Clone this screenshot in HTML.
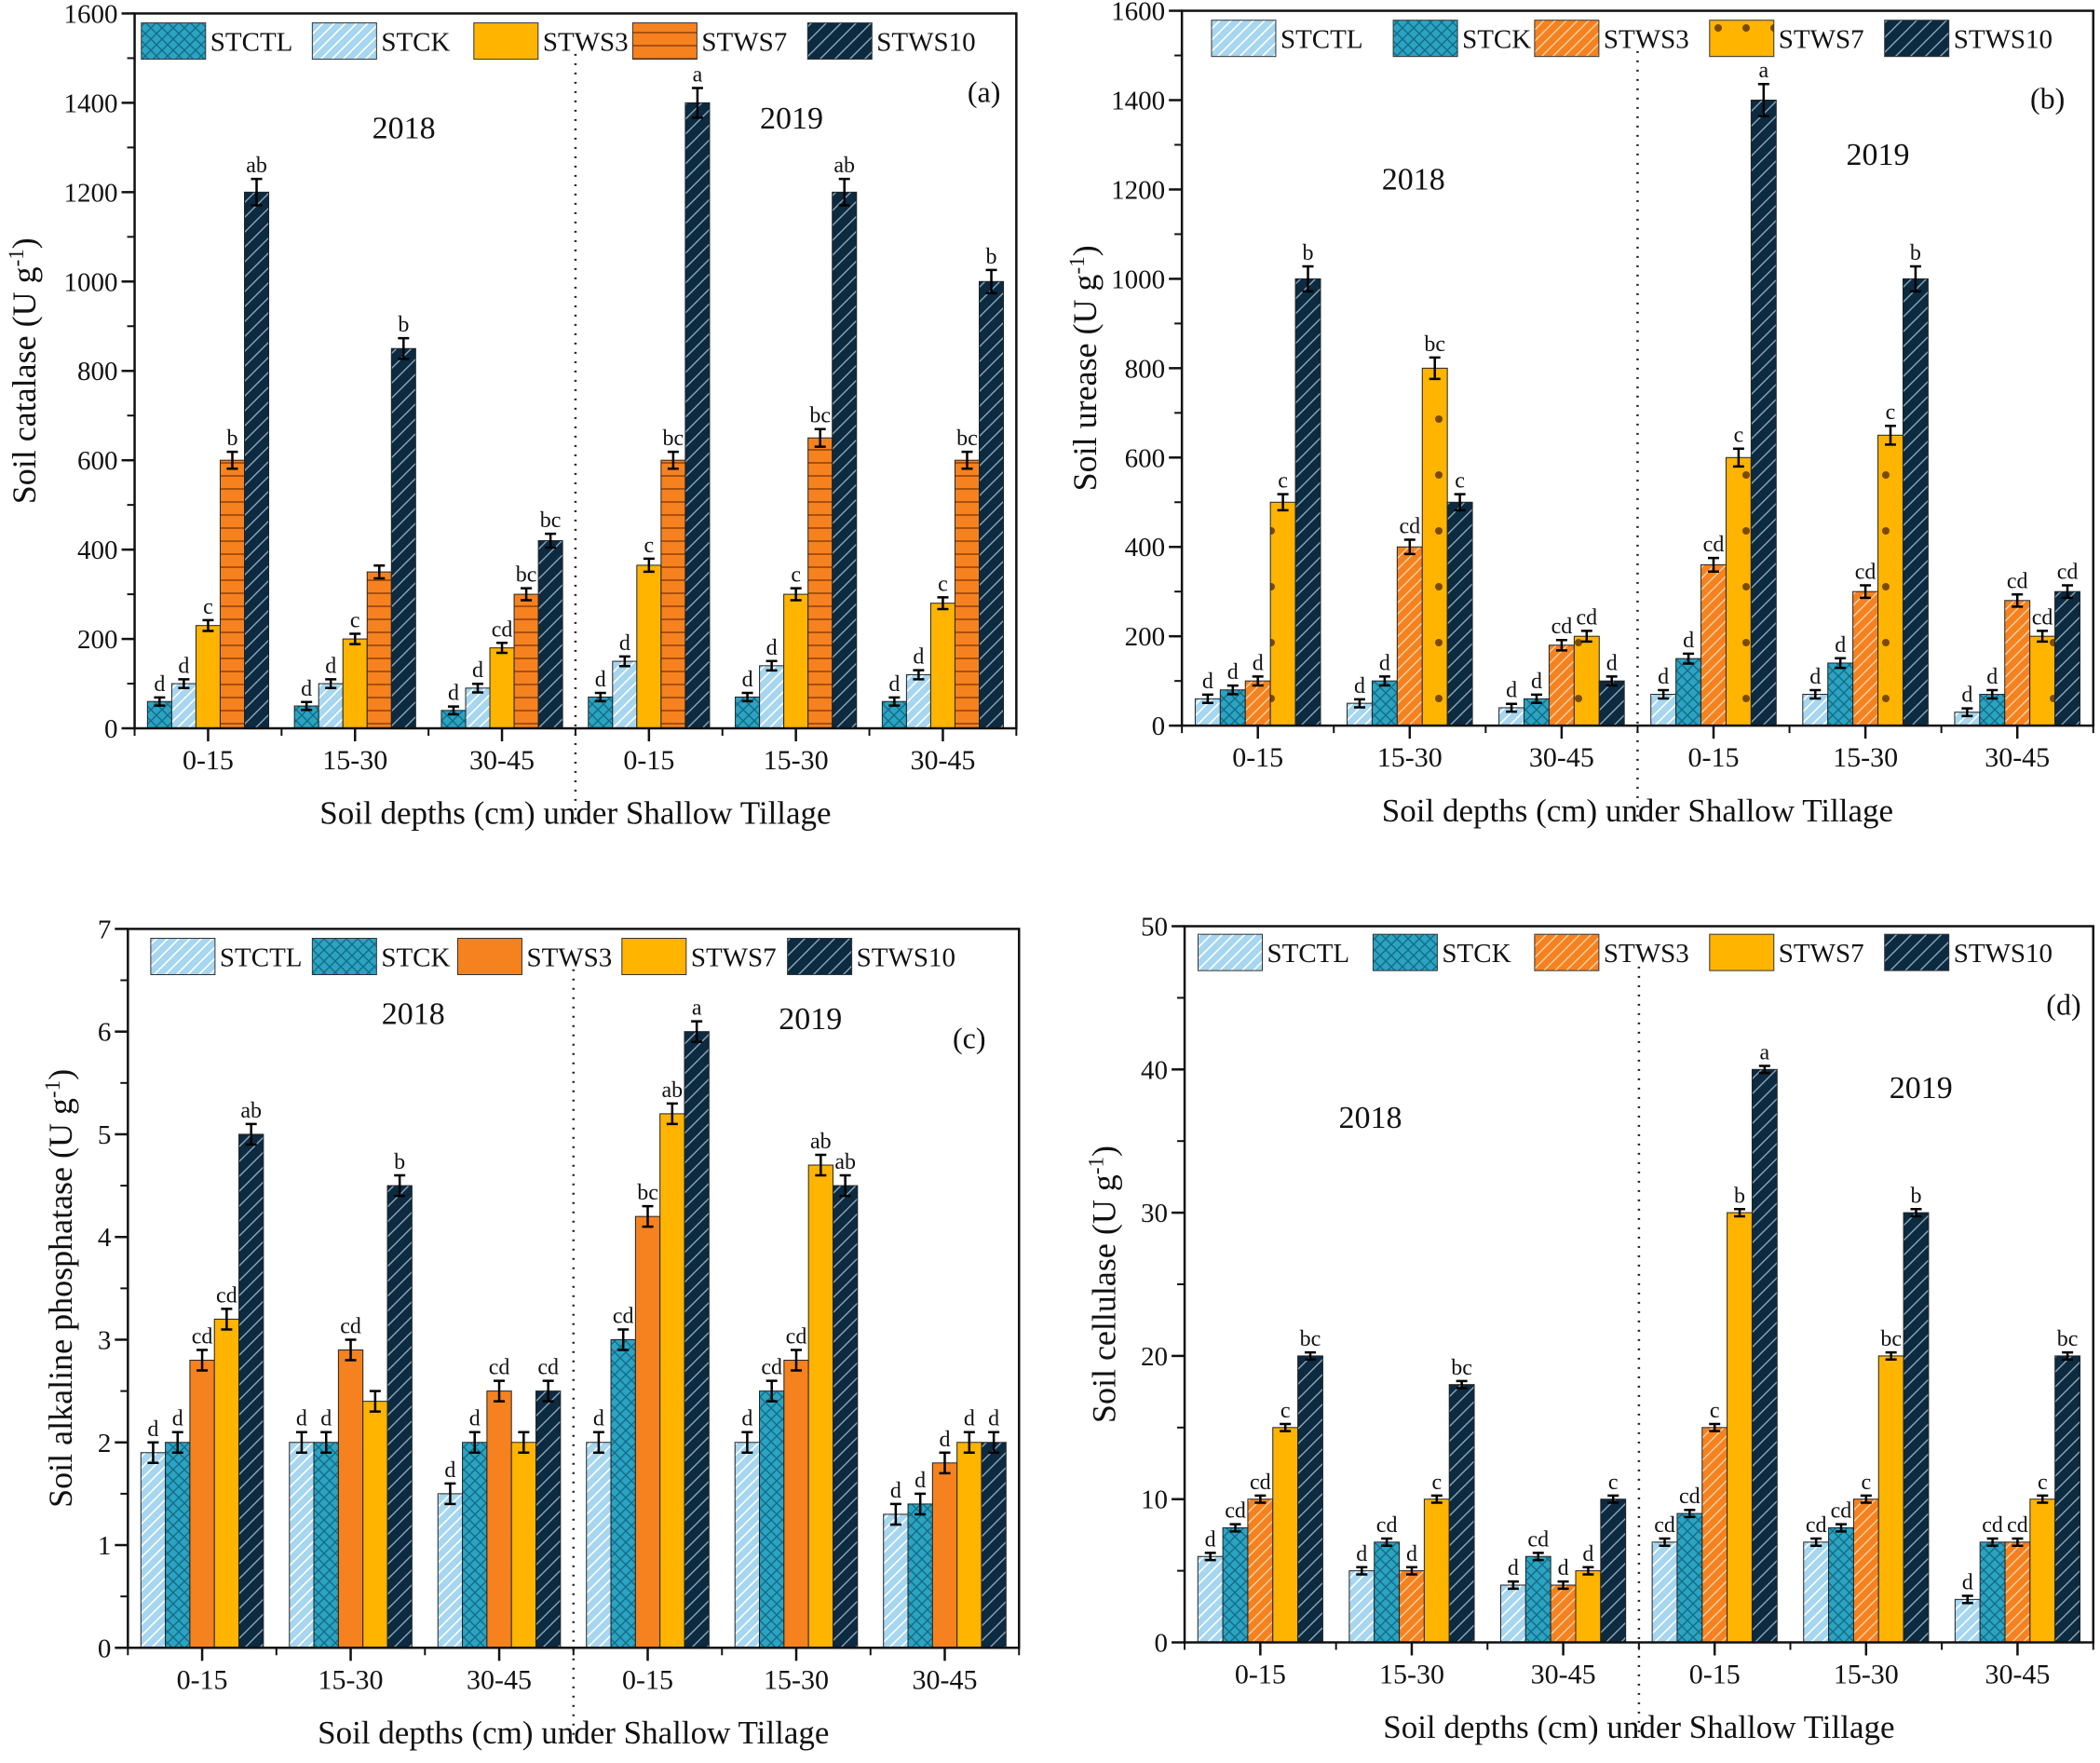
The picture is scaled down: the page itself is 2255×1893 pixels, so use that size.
<!DOCTYPE html>
<html><head><meta charset="utf-8"><style>
html,body{margin:0;padding:0;background:#fff;}
svg{display:block;font-family:"Liberation Serif",serif;}
</style></head><body>
<svg id="fig" width="2255" height="1893" viewBox="0 0 2255 1893" xmlns="http://www.w3.org/2000/svg">
<defs>
<pattern id="p-cross" patternUnits="userSpaceOnUse" width="12" height="12"><rect width="12" height="12" fill="#2ba3c2"/><path d="M0,0L12,12M12,0L0,12" stroke="#146c85" stroke-width="1.4"/></pattern>
<pattern id="p-light" patternUnits="userSpaceOnUse" width="12" height="12"><rect width="12" height="12" fill="#a6d6f0"/><path d="M-3,15L15,-3M-3,3L3,-3M9,15L15,9" stroke="#fff" stroke-width="1.6"/></pattern>
<pattern id="p-yellow" patternUnits="userSpaceOnUse" width="12" height="12"><rect width="12" height="12" fill="#ffb400"/></pattern>
<pattern id="p-hline" patternUnits="userSpaceOnUse" width="12" height="14"><rect width="12" height="14" fill="#f5821f"/><path d="M0,7H12" stroke="#8a3a06" stroke-width="1.4"/></pattern>
<pattern id="p-navy" patternUnits="userSpaceOnUse" width="16" height="16"><rect width="16" height="16" fill="#0c2a40"/><path d="M-4,20L20,-4M-4,4L4,-4M12,20L20,12" stroke="#8fa6b8" stroke-width="1.4"/></pattern>
<pattern id="p-orangediag" patternUnits="userSpaceOnUse" width="12" height="12"><rect width="12" height="12" fill="#f5821f"/><path d="M-3,15L15,-3M-3,3L3,-3M9,15L15,9" stroke="#fcd2a8" stroke-width="1.4"/></pattern>
<pattern id="p-orange" patternUnits="userSpaceOnUse" width="12" height="12"><rect width="12" height="12" fill="#f5821f"/></pattern>
<pattern id="p-ydots" patternUnits="userSpaceOnUse" width="30" height="60"><rect width="30" height="60" fill="#ffb400"/><circle cx="15" cy="30" r="4" fill="#7a4a00"/></pattern>
</defs>
</svg>
<script>
const S = 1.4455;
const groups = ["0-15","15-30","30-45","0-15","15-30","30-45"];
// Panel A: soil catalase
const aSeries = ["STCTL","STCK","STWS3","STWS7","STWS10"];
const aTicks = [0,200,400,600,800,1000,1200,1400,1600];
const aCTL = [60,50,40,70,70,60];
const aCK = [100,100,90,150,140,120];
const aWS3 = [230,200,180,365,300,280];
const aWS7 = [600,350,300,600,650,600];
const aWS10 = [1200,850,420,1400,1200,1000];
const aLetters = [["d","d","c","b","ab"],["d","d","c","","b"],["d","d","cd","bc","bc"],["d","d","c","bc","a"],["d","d","c","bc","ab"],["d","d","c","bc","b"]];
// Panel B: soil urease
const bSeries = ["STCTL","STCK","STWS3","STWS7","STWS10"];
const bTicks = [0,200,400,600,800,1000,1200,1400,1600];
const bCTL = [60,50,40,70,70,30];
const bCK = [80,100,60,150,140,70];
const bWS3 = [100,400,180,360,300,280];
const bWS7 = [500,800,200,600,650,200];
const bWS10 = [1000,500,100,1400,1000,300];
const bLetters = [["d","d","d","c","b"],["d","d","cd","bc","c"],["d","d","cd","cd","d"],["d","d","cd","c","a"],["d","d","cd","c","b"],["d","d","cd","cd","cd"]];
// Panel C: alkaline phosphatase
const cSeries = ["STCTL","STCK","STWS3","STWS7","STWS10"];
const cTicks = [0,1,2,3,4,5,6,7];
const cCTL = [1.9,2.0,1.5,2.0,2.0,1.3];
const cCK = [2.0,2.0,2.0,3.0,2.5,1.4];
const cWS3 = [2.8,2.9,2.5,4.2,2.8,1.8];
const cWS7 = [3.2,2.4,2.0,5.2,4.7,2.0];
const cWS10 = [5.0,4.5,2.5,6.0,4.5,2.0];
const cLetters = [["d","d","cd","cd","ab"],["d","d","cd","","b"],["d","d","cd","","cd"],["d","cd","bc","ab","a"],["d","cd","cd","ab","ab"],["d","d","d","d","d"]];
// Panel D: cellulase
const dSeries = ["STCTL","STCK","STWS3","STWS7","STWS10"];
const dTicks = [0,10,20,30,40,50];
const dCTL = [6,5,4,7,7,3];
const dCK = [8,7,6,9,8,7];
const dWS3 = [10,5,4,15,10,7];
const dWS7 = [15,10,5,30,20,10];
const dWS10 = [20,18,10,40,30,20];
const dLetters = [["d","cd","cd","c","bc"],["d","cd","d","c","bc"],["d","cd","d","d","c"],["cd","cd","c","b","a"],["cd","cd","c","bc","b"],["d","cd","cd","c","bc"]];

const NS = "http://www.w3.org/2000/svg";
const svg = document.getElementById("fig");
function mk(tag, attrs, parent){const e=document.createElementNS(NS,tag);for(const k in attrs)e.setAttribute(k,attrs[k]);(parent||svg).appendChild(e);return e;}

const panels = [
 {id:"a",L:100,R:755,T:10,B:541,max:1600,ticks:aTicks,minor:100,series:aSeries,vals:[aCTL,aCK,aWS3,aWS7,aWS10],letters:aLetters,
  fills:["p-cross","p-light","p-yellow","p-hline","p-navy"],legOff:[5,132,252,370,500],legY:17,
  title:"Soil catalase",tx:18,y18:[300,95],y19:[588,88],tag:[731,68],e0:8,e1:0.018},
 {id:"b",L:878,R:1555,T:8,B:539,max:1600,ticks:bTicks,minor:100,series:bSeries,vals:[bCTL,bCK,bWS3,bWS7,bWS10],letters:bLetters,
  fills:["p-light","p-cross","p-orangediag","p-ydots","p-navy"],legOff:[22,157,262,392,522],legY:15,
  title:"Soil urease",tx:806,y18:[1050,133],y19:[1395,115],tag:[1521,73],e0:8,e1:0.02},
 {id:"c",L:95,R:757,T:690,B:1224,max:7,ticks:cTicks,minor:0.5,series:cSeries,vals:[cCTL,cCK,cWS3,cWS7,cWS10],letters:cLetters,
  fills:["p-light","p-cross","p-orange","p-yellow","p-navy"],legOff:[17,137,245,367,490],legY:697,
  title:"Soil alkaline phosphatase",tx:45,y18:[307,753],y19:[602,757],tag:[720,771],e0:0.1,e1:0},
 {id:"d",L:880,R:1555,T:688,B:1220,max:50,ticks:dTicks,minor:5,series:dSeries,vals:[dCTL,dCK,dWS3,dWS7,dWS10],letters:dLetters,
  fills:["p-light","p-cross","p-orangediag","p-yellow","p-navy"],legOff:[10,140,260,390,520],legY:694,
  title:"Soil cellulase",tx:820,y18:[1018,830],y19:[1427,808],tag:[1533,746],e0:0.25,e1:0}
];

panels.forEach(p=>{
 const L=p.L*S,R=p.R*S,T=p.T*S,B=p.B*S;
 const g=mk("g",{});
 
 
 const y=v=>B-(v/p.max)*(B-T);
 const gw=(R-L)/6, bw=gw*0.165;
 p.vals.forEach((arr,s)=>{
  arr.forEach((v,gi)=>{
   const cx=L+(gi+0.5)*gw+(s-2)*bw;
   const r=mk("rect",{x:cx-bw/2,y:y(v),width:bw,height:B-y(v),fill:"url(#"+p.fills[s]+")",stroke:"#222","stroke-width":1},g);
   
   
   const e=(p.e0+v*p.e1)*(B-T)/p.max;
   mk("path",{d:`M${cx},${y(v)-e}V${y(v)+e}M${cx-6},${y(v)-e}H${cx+6}M${cx-6},${y(v)+e}H${cx+6}`,stroke:"#000","stroke-width":2.5,fill:"none"},g);
   const lt=p.letters[gi][s];
   if(lt){const t=mk("text",{x:cx,y:y(v)-e-7,"font-size":24,"text-anchor":"middle",fill:"#111"},g);t.textContent=lt;
    
    }
  });
 });
 mk("rect",{x:L,y:T,width:R-L,height:B-T,fill:"none",stroke:"#111","stroke-width":2.5},g);
 for(let v=0;v<=p.max+1e-9;v+=p.minor){const yy=y(v);mk("path",{d:`M${L},${yy}H${L-8}`,stroke:"#111","stroke-width":2},g);}
 p.ticks.forEach(v=>{const yy=y(v);mk("path",{d:`M${L},${yy}H${L-14}`,stroke:"#111","stroke-width":2.5},g);
  const t=mk("text",{x:L-18,y:yy+10,"font-size":29,"text-anchor":"end",fill:"#111"},g);t.textContent=v;
  
  });
 for(let i=0;i<=6;i++){mk("path",{d:`M${L+i*gw},${B}V${B+8}`,stroke:"#111","stroke-width":2},g);}
 groups.forEach((lab,i)=>{const cx=L+(i+0.5)*gw;mk("path",{d:`M${cx},${B}V${B+14}`,stroke:"#111","stroke-width":2.5},g);
  const t=mk("text",{x:cx,y:B+44,"font-size":30,"text-anchor":"middle",fill:"#111"},g);t.textContent=lab;
  
  });
 const dl=mk("path",{d:`M${L+3*gw},${T+30*S}V${B+70*S}`,stroke:"#222","stroke-width":2.5,"stroke-dasharray":"2,8"},g);
 
 
 const xt=mk("text",{x:(L+R)/2,y:B+71*S,"font-size":35,"text-anchor":"middle",fill:"#111"},g);
 xt.textContent="Soil depths (cm) under Shallow Tillage";
 
 
 const ty=mk("text",{transform:`translate(${p.tx*S+12},${(T+B)/2}) rotate(-90)`,"font-size":36,"text-anchor":"middle",fill:"#111"},g);
 
 
 ty.innerHTML=`${p.title} (U g<tspan dy="-13" font-size="23">-1</tspan><tspan dy="13">)</tspan>`;
 [["2018",p.y18],["2019",p.y19]].forEach(([s,pt])=>{const t=mk("text",{x:pt[0]*S,y:pt[1]*S+11,"font-size":34,"text-anchor":"middle",fill:"#111"},g);t.textContent=s;
  
  });
 const tg=mk("text",{x:p.tag[0]*S,y:p.tag[1]*S+11,"font-size":32,"text-anchor":"middle",fill:"#111"},g);tg.textContent="("+p.id+")";
 
 
 p.series.forEach((name,s)=>{
  const lx=(p.L+p.legOff[s])*S, ly=p.legY*S;
  const lg=mk("g",{},g);
  
  
  mk("rect",{x:lx,y:ly,width:69,height:39,fill:"url(#"+p.fills[s]+")",stroke:"#333","stroke-width":1},lg);
  const t=mk("text",{x:lx+74,y:ly+30,"font-size":29,fill:"#111"},lg);t.textContent=name;
 });
});
</script>
</body></html>
